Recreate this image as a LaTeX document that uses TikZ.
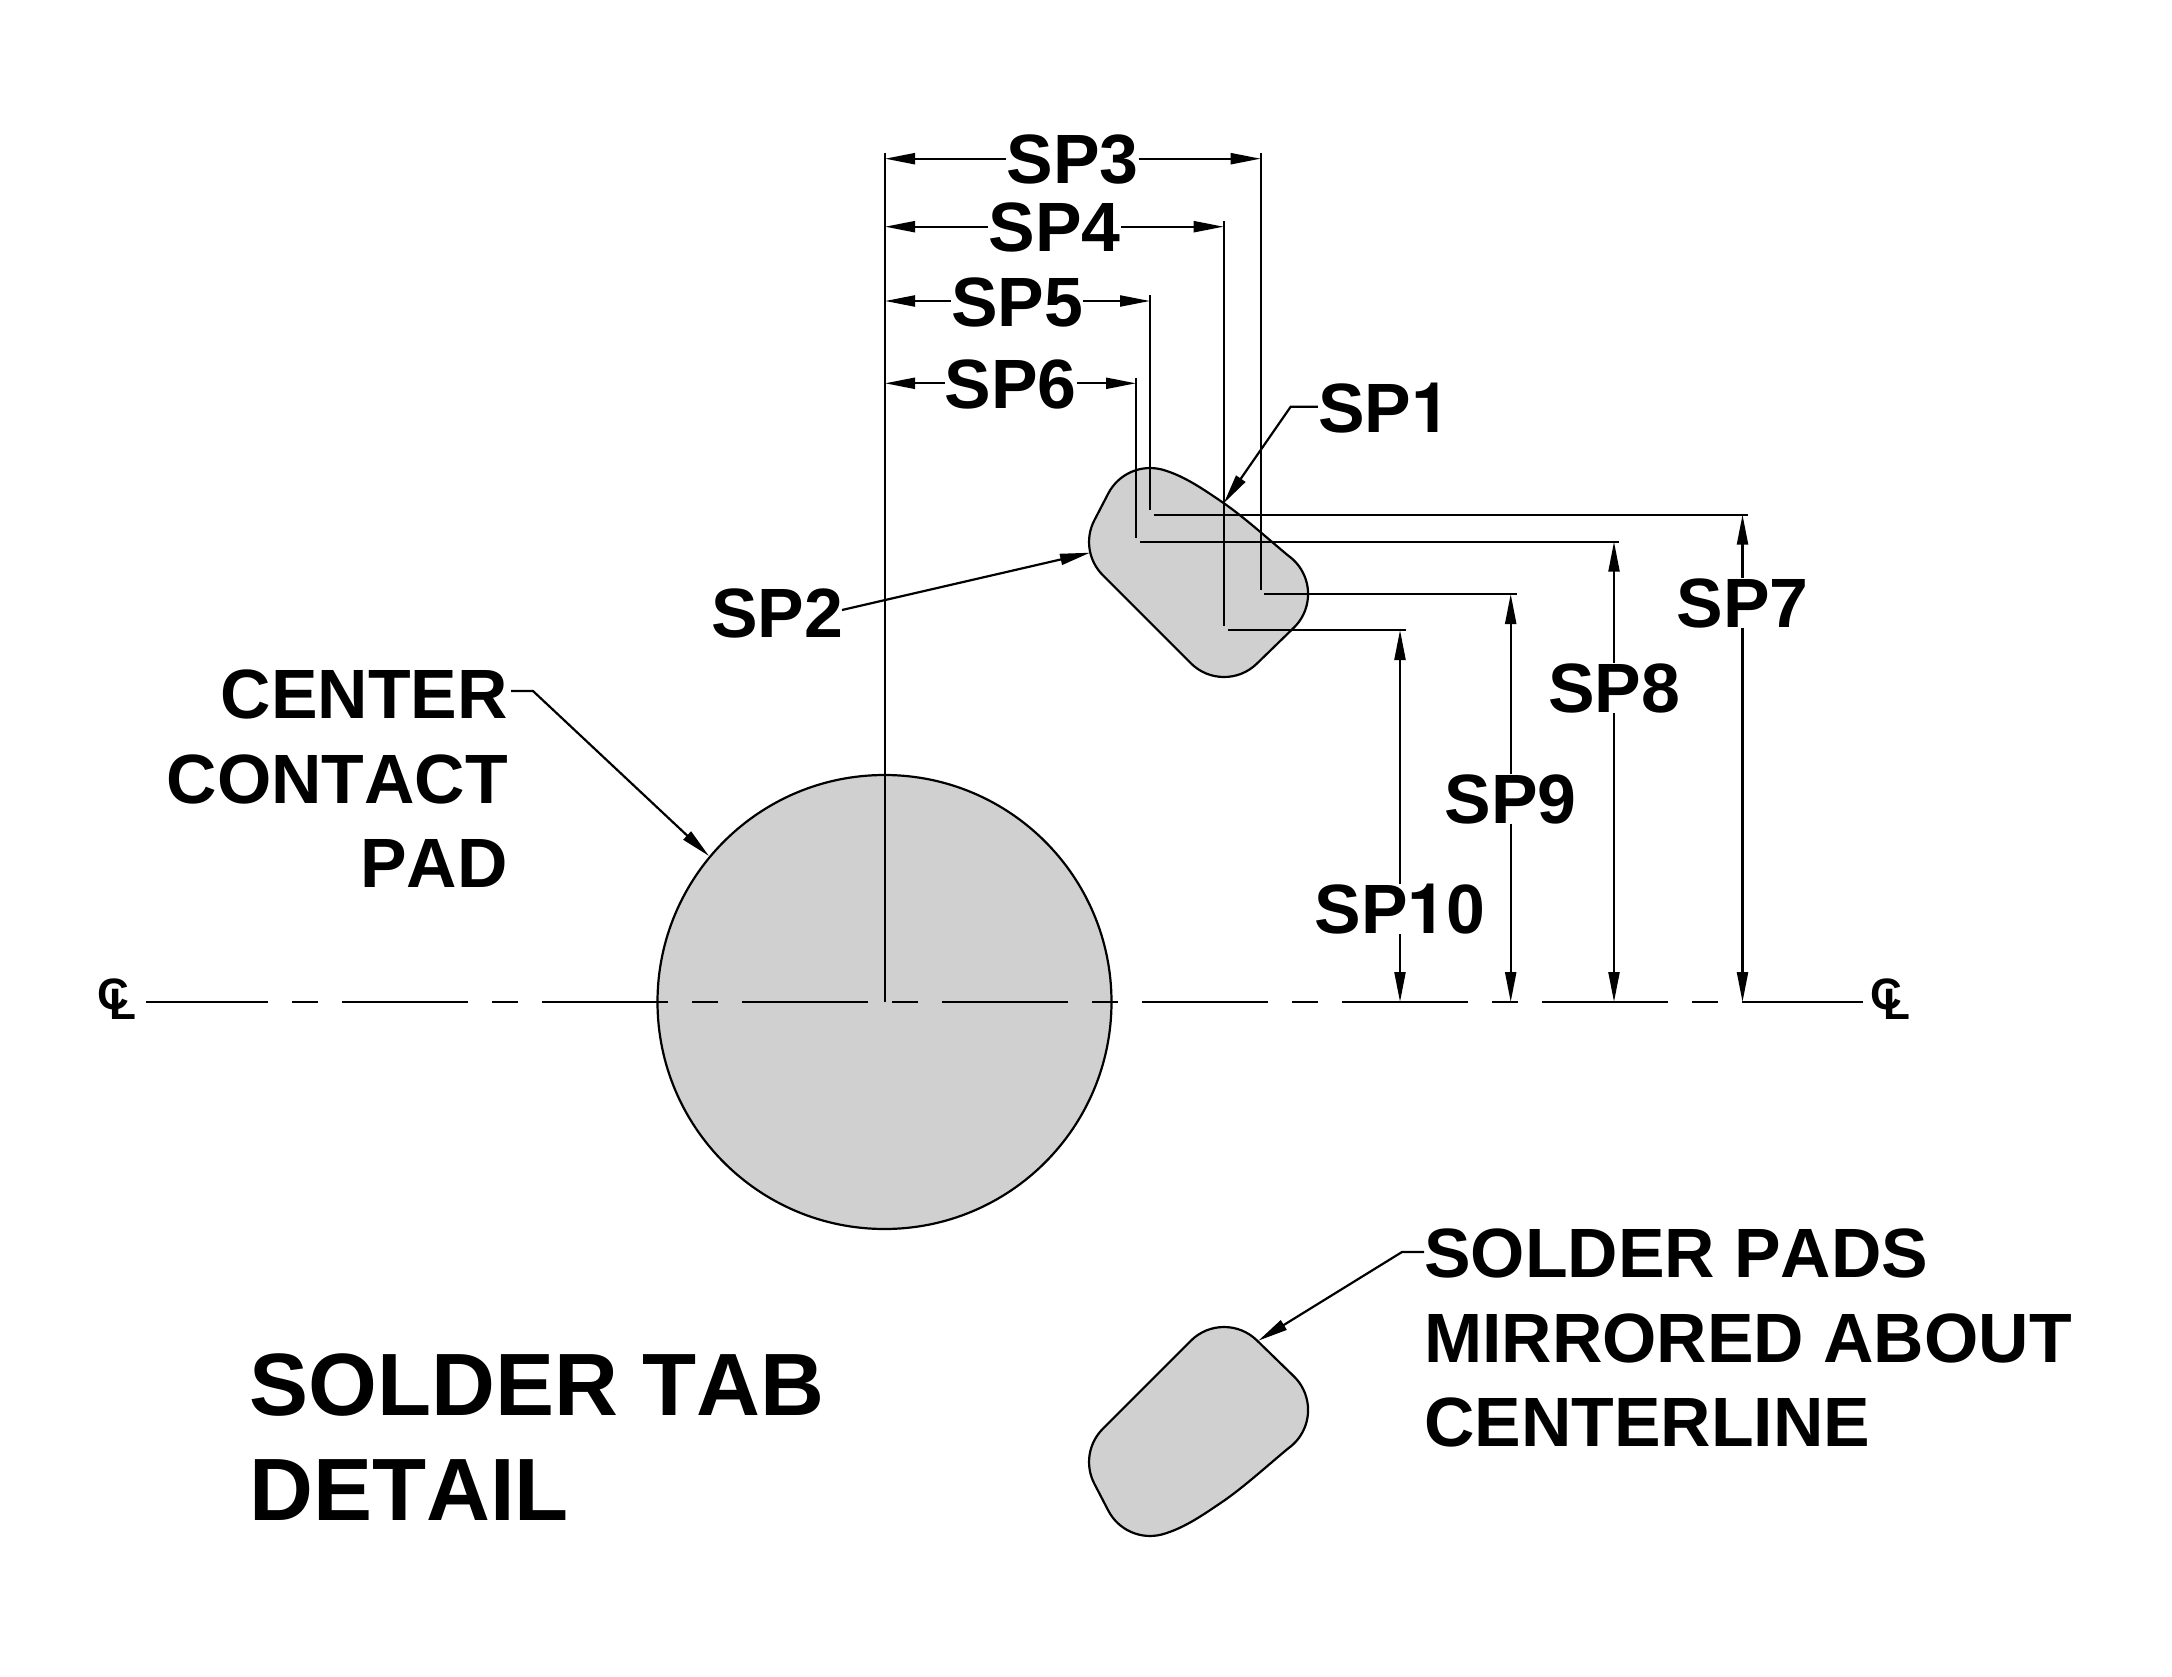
\documentclass[tikz,border=0pt]{standalone}
\usepackage{fontspec}
\setmainfont{Liberation Sans}[Kerning=Off]
\newfontfamily\onefont{TeX Gyre Heros}
\usetikzlibrary{arrows.meta}
\definecolor{padgray}{RGB}{208,208,208}
\tikzset{
  lbl/.style={font=\fontsize{69.8}{84.5}\selectfont\bfseries,inner sep=0pt},
  big/.style={font=\fontsize{88.5}{105}\selectfont\bfseries,inner sep=0pt},
  clc/.style={font=\fontsize{44}{44}\selectfont\bfseries,inner sep=0pt},
  ln/.style={line width=2.2pt,black},
  dimline/.style={ln,-{Triangle[length=30pt,width=11pt]}},
  cline/.style={ln,dash pattern=on 126pt off 24pt on 26pt off 24pt,dash phase=4pt},
  padshape/.style={fill=padgray,draw=black,line width=2.2pt}
}
\newcommand{\padoutline}{
  (1162.2,469.6) .. controls (1185,476) and (1205,490.5) .. (1224,503.3)
  .. controls (1245,518) and (1267,538) .. (1288.3,555.7)
  arc[start angle=-54.6,end angle=45.8,radius=47]
  -- (1256.8,663.7) arc[start angle=45.8,end angle=135,radius=47]
  -- (1102.8,575.2) arc[start angle=135,end angle=207.4,radius=47]
  -- (1108.3,493.4) arc[start angle=207.4,end angle=285,radius=47] -- cycle}
\newcommand{\clsym}{C\kern-19.4pt\raisebox{-10pt}{L}}
\newcommand{\one}{{\onefont\bfseries 1}}
\begin{document}
\begin{tikzpicture}[x=1pt,y=-1pt]
\useasboundingbox (0,0) rectangle (2172,1677);
\fill[white] (0,0) rectangle (2172,1677);
% pads
\draw[padshape] (884.5,1002) circle[radius=227];
\draw[padshape] \padoutline;
\begin{scope}[yshift=-2004pt,yscale=-1]
\draw[padshape] \padoutline;
\end{scope}
% centre line and symbols
\coordinate (clL) at (146,1002);
\coordinate (clR) at (1863,1002);
\draw[cline] (clL) -- (clR);
\node[clc] (cL) at (117.25,999.5) {\clsym};
\node[clc] (cR) at (1890.25,999.5) {\clsym};
% extension lines, vertical
\draw[ln] (885,1002) -- (885,153);
\draw[ln] (1260.7,589.5) -- (1260.7,153);
\draw[ln] (1223.7,625.7) -- (1223.7,221);
\draw[ln] (1150,510) -- (1150,295);
\draw[ln] (1136,537.7) -- (1136,377.7);
% extension lines, horizontal
\draw[ln] (1154,514.7) -- (1748,514.7);
\draw[ln] (1140,541.7) -- (1619.3,541.7);
\draw[ln] (1264.3,594) -- (1516.7,594);
\draw[ln] (1228.3,630) -- (1405.7,630);
% horizontal dimensions
\node[lbl] (sp3) at (1072.5,160) {SP3};
\coordinate (sp3a) at (885,158.7); \coordinate (sp3b) at (1260.7,158.7);
\draw[dimline] (sp3.west |- sp3a) -- (sp3a); \draw[dimline] (sp3.east |- sp3b) -- (sp3b);
\node[lbl] (sp4) at (1054.6,227.5) {SP4};
\coordinate (sp4a) at (885,226.7); \coordinate (sp4b) at (1223.7,226.7);
\draw[dimline] (sp4.west |- sp4a) -- (sp4a); \draw[dimline] (sp4.east |- sp4b) -- (sp4b);
\node[lbl] (sp5) at (1017.2,302) {SP5};
\coordinate (sp5a) at (885,301); \coordinate (sp5b) at (1150,301);
\draw[dimline] (sp5.west |- sp5a) -- (sp5a); \draw[dimline] (sp5.east |- sp5b) -- (sp5b);
\node[lbl] (sp6) at (1010.8,384.5) {SP6};
\coordinate (sp6a) at (885,383.3); \coordinate (sp6b) at (1136,383.3);
\draw[dimline] (sp6.west |- sp6a) -- (sp6a); \draw[dimline] (sp6.east |- sp6b) -- (sp6b);
% vertical dimensions
\node[lbl] (sp7) at (1742.5,603) {SP7};
\coordinate (sp7a) at (1742.5,514.7); \coordinate (sp7b) at (1742.5,1002);
\draw[dimline] (sp7) -- (sp7a); \draw[dimline] (sp7) -- (sp7b);
\node[lbl] (sp8) at (1614,688) {SP8};
\coordinate (sp8a) at (1614,541.7); \coordinate (sp8b) at (1614,1002);
\draw[dimline] (sp8) -- (sp8a); \draw[dimline] (sp8) -- (sp8b);
\node[lbl] (sp9) at (1510.7,799) {SP9};
\coordinate (sp9a) at (1510.7,594); \coordinate (sp9b) at (1510.7,1002);
\draw[dimline] (sp9) -- (sp9a); \draw[dimline] (sp9) -- (sp9b);
\node[lbl] (sp10) at (1400,909) {SP\one 0};
\coordinate (sp10a) at (1400,630); \coordinate (sp10b) at (1400,1002);
\draw[dimline] (sp10) -- (sp10a); \draw[dimline] (sp10) -- (sp10b);
% leaders
\node[lbl] (sp1) at (1384,408.5) {SP\one};
\coordinate (sp1k) at (1290.7,406.7); \coordinate (sp1t) at (1223.7,503.3);
\draw[dimline] (sp1.west |- sp1k) -- (sp1k) -- (sp1t);
\node[lbl] (sp2) at (777,613) {SP2};
\coordinate (sp2s) at (842,610); \coordinate (sp2t) at (1090,552.7);
\draw[dimline] (sp2s) -- (sp2t);
\node[lbl,align=right,anchor=east] (ccp) at (508,779) {CENTER\\CONTACT\\PAD};
\coordinate (ccs) at (511,691); \coordinate (cck) at (533,691); \coordinate (cct) at (709,856);
\draw[dimline] (ccs) -- (cck) -- (cct);
\node[lbl,align=left,anchor=west] (spm) at (1424,1338) {SOLDER PADS\\MIRRORED ABOUT\\CENTERLINE};
\coordinate (sps) at (1424,1252); \coordinate (spk) at (1402,1252); \coordinate (spt) at (1258.3,1340.7);
\draw[dimline] (sps) -- (spk) -- (spt);
\node[big,align=left,anchor=west] (tab) at (249,1437.5) {SOLDER TAB\\DETAIL};
\end{tikzpicture}
\end{document}
